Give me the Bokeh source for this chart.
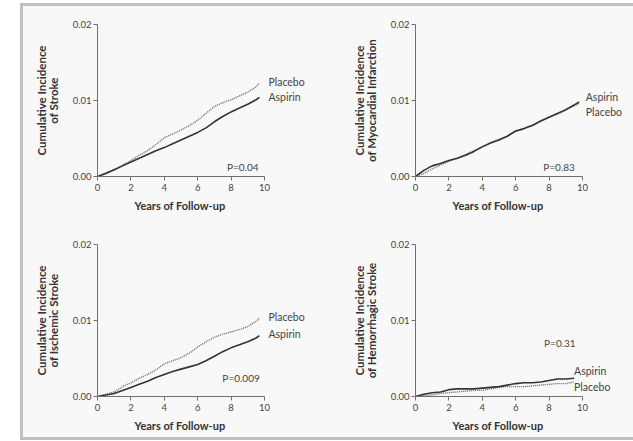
from bokeh.plotting import figure
from bokeh.layouts import column, row
from bokeh.models import Range1d, Label, Title, FixedTicker, NumeralTickFormatter
from bokeh.embed import file_html
from bokeh.resources import INLINE

# Follow-up times (years)
t_full = [0, 0.5, 1, 1.5, 2, 2.5, 3, 3.5, 4, 4.5, 5, 5.5, 6, 6.5, 7, 7.5, 8, 8.5, 9, 9.5, 9.7]
t_mi = [0, 0.5, 1, 1.5, 2, 2.5, 3, 3.5, 4, 4.5, 5, 5.5, 6, 6.5, 7, 7.5, 8, 8.5, 9, 9.5, 9.8]
t_hem = [0, 0.5, 1, 1.5, 2, 2.5, 3, 3.5, 4, 4.5, 5, 5.5, 6, 6.5, 7, 7.5, 8, 8.5, 9, 9.5]

# Cumulative incidence of stroke
stroke_aspirin = [0, 0.0004, 0.0009, 0.0014, 0.0019, 0.0024, 0.0029, 0.0034, 0.0038, 0.0043, 0.0048,
                  0.0053, 0.0058, 0.0064, 0.0072, 0.0079, 0.0085, 0.0090, 0.0095, 0.0101, 0.0104]
stroke_placebo = [0, 0.0005, 0.0009, 0.0015, 0.0021, 0.0028, 0.0034, 0.0042, 0.0051, 0.0056, 0.0061,
                  0.0067, 0.0074, 0.0083, 0.0092, 0.0097, 0.0101, 0.0106, 0.0111, 0.0118, 0.0123]

# Cumulative incidence of myocardial infarction
mi_aspirin = [0, 0.0008, 0.0014, 0.0017, 0.0021, 0.0024, 0.0028, 0.0033, 0.0039, 0.0044, 0.0048,
              0.0053, 0.0060, 0.0063, 0.0067, 0.0073, 0.0078, 0.0083, 0.0088, 0.0094, 0.0098]
mi_placebo = [0, 0.0004, 0.0010, 0.0015, 0.0020, 0.0024, 0.0029, 0.0034, 0.0039, 0.0045, 0.0049,
              0.0053, 0.0059, 0.0063, 0.0068, 0.0073, 0.0078, 0.0082, 0.0087, 0.0093, 0.0096]

# Cumulative incidence of ischemic stroke
isch_aspirin = [0, 0.0002, 0.0004, 0.0008, 0.0012, 0.0016, 0.0020, 0.0025, 0.0029, 0.0033, 0.0036,
                0.0039, 0.0042, 0.0047, 0.0053, 0.0059, 0.0064, 0.0068, 0.0072, 0.0077, 0.0080]
isch_placebo = [0, 0.0003, 0.0006, 0.0013, 0.0018, 0.0024, 0.0029, 0.0035, 0.0043, 0.0047, 0.0051,
                0.0057, 0.0065, 0.0072, 0.0078, 0.0082, 0.0085, 0.0088, 0.0092, 0.0099, 0.0103]

# Cumulative incidence of hemorrhagic stroke
hem_aspirin = [0, 0.0003, 0.0005, 0.0006, 0.0009, 0.0010, 0.0010, 0.0010, 0.0011, 0.0012,
               0.0013, 0.0015, 0.0017, 0.0018, 0.0018, 0.0019, 0.0021, 0.0023, 0.0023, 0.0024]
hem_placebo = [0, 0.0001, 0.0002, 0.0004, 0.0005, 0.0006, 0.0007, 0.0008, 0.0008, 0.0010,
               0.0012, 0.0013, 0.0013, 0.0013, 0.0014, 0.0015, 0.0016, 0.0017, 0.0017, 0.0019]

x_ticks = [0, 2, 4, 6, 8, 10]
y_ticks = [0, 0.01, 0.02]
x_title = "Years of Follow-up"

FONT = "Lato"
TEXT = "#444444"
TITLE = "#333333"
AXIS = "#707070"
BG = "#f8f8f8"


def panel(ytitle, t, asp, pla, lab_asp, lab_pla, pval, width, height, top, bottom, right):
    p = figure(width=width, height=height, output_backend="svg", toolbar_location=None,
               x_range=Range1d(0, 13), y_range=Range1d(0, 0.02),
               min_border_left=74, min_border_right=right,
               min_border_top=top, min_border_bottom=bottom)
    p.background_fill_color = BG
    p.border_fill_color = BG
    p.outline_line_color = None
    p.grid.visible = False

    for ax in (p.xaxis[0], p.yaxis[0]):
        ax.axis_line_color = AXIS
        ax.major_tick_line_color = AXIS
        ax.minor_tick_line_color = None
        ax.major_tick_out = 4
        ax.major_tick_in = 0
        ax.major_label_text_font = FONT
        ax.major_label_text_font_size = "9.5px"
        ax.major_label_text_color = TEXT

    p.xaxis.ticker = FixedTicker(ticks=x_ticks)
    p.xaxis.bounds = (0, 10)
    p.xaxis.major_label_standoff = 3

    p.yaxis.ticker = FixedTicker(ticks=y_ticks)
    p.yaxis.bounds = (0, 0.02)
    p.yaxis.formatter = NumeralTickFormatter(format="0.00")
    p.yaxis.major_label_standoff = 2

    # y title: two centred lines on the y axis
    yax = p.yaxis[0]
    yax.axis_label = "\n".join(ytitle)
    yax.axis_label_text_font = FONT
    yax.axis_label_text_font_size = "11.5px"
    yax.axis_label_text_font_style = "bold"
    yax.axis_label_text_color = TITLE
    yax.axis_label_text_align = "center"
    yax.axis_label_text_line_height = 0.9
    yax.axis_label_standoff = 10

    # x title sits under the 0-10 span of the axis
    p.add_layout(Title(text=x_title, text_font=FONT, text_font_size="11px",
                       text_font_style="bold", text_color=TITLE,
                       align="left", offset=37, standoff=7), "below")

    p.line(t, pla, line_color="#666666", line_width=1.4, line_dash="1 1")
    p.line(t, asp, line_color="#333333", line_width=1.6)

    for (x, y, txt) in (lab_asp + ("Aspirin",), lab_pla + ("Placebo",)):
        p.add_layout(Label(x=x, y=y, text=txt, text_font=FONT, text_font_size="10.5px",
                           text_color=TEXT, text_baseline="middle", text_align="left"))
    px, py, ptxt = pval
    p.add_layout(Label(x=px, y=py, text=ptxt, text_font=FONT, text_font_size="10px",
                       text_color=TEXT, text_baseline="middle", text_align="center"))
    return p


p1 = panel(("Cumulative Incidence", "of Stroke"), t_full, stroke_aspirin, stroke_placebo,
           (10.24, 0.0104), (10.24, 0.0125), (8.7, 0.0013, "P=0.04"),
           318, 214, 18, 44, 27)
p2 = panel(("Cumulative Incidence", "of Myocardial Infarction"), t_mi, mi_aspirin, mi_placebo,
           (10.2, 0.0104), (10.2, 0.00855), (8.6, 0.0013, "P=0.83"),
           292, 214, 18, 44, 1)
p3 = panel(("Cumulative Incidence", "of Ischemic Stroke"), t_full, isch_aspirin, isch_placebo,
           (10.24, 0.0082), (10.24, 0.0105), (8.6, 0.0025, "P=0.009"),
           318, 217, 24, 41, 27)
p4 = panel(("Cumulative Incidence", "of Hemorrhagic Stroke"), t_hem, hem_aspirin, hem_placebo,
           (9.5, 0.0034), (9.5, 0.0012), (8.65, 0.0070, "P=0.31"),
           292, 217, 24, 41, 1)

layout = column(row(p1, p2), row(p3, p4),
                styles={"margin-left": "20px", "margin-top": "3px",
                        "border-left": "3px solid #c0c0c0",
                        "border-top": "3px solid #c0c0c0",
                        "border-bottom": "3px solid #c0c0c0",
                        "background-color": BG})

open("out.html", "w").write(file_html(layout, INLINE))
